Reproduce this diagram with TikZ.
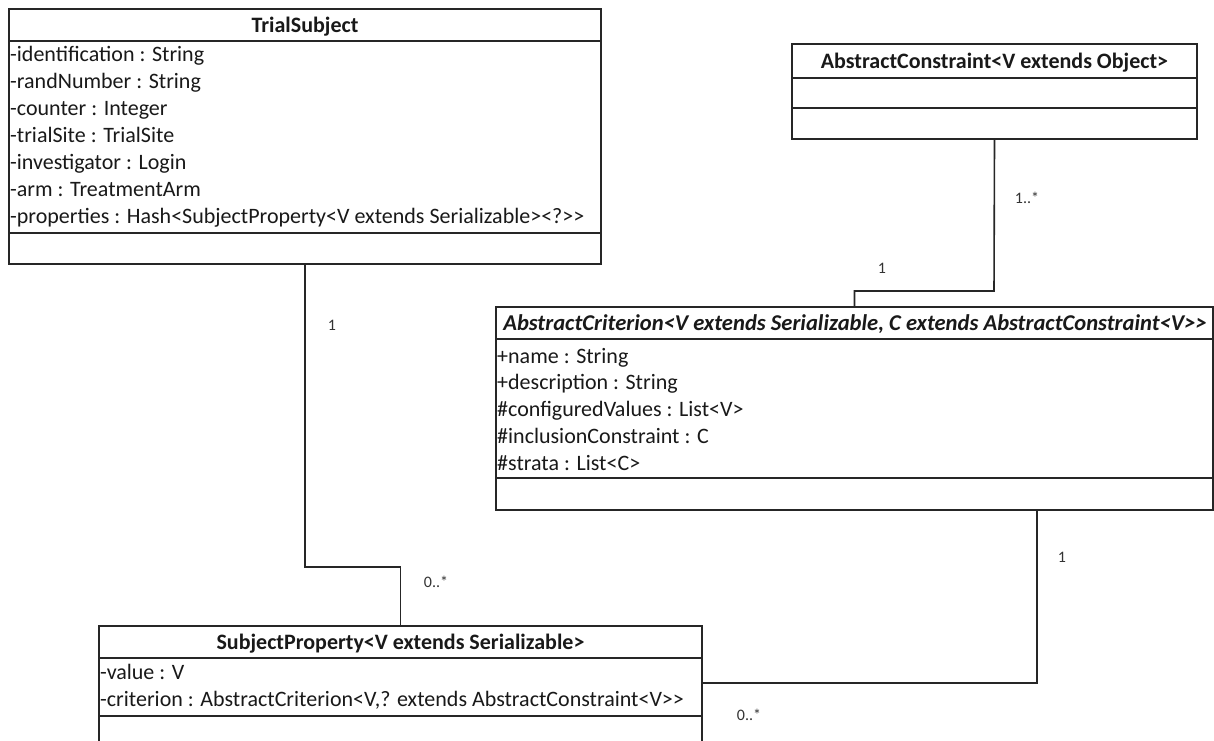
\documentclass[tikz,border=0pt]{standalone}
\usepackage{fontspec}
\setmainfont{Carlito}[Ligatures=TeXOff]
\begin{document}
\begin{tikzpicture}[x=1pt,y=-1pt,
  box/.style={draw=black!85, line width=1.6pt, anchor=north west, inner sep=0pt, outer sep=0pt, rectangle},
  sepline/.style={draw=black!85, line width=1.6pt},
  conn/.style={draw=black!85, line width=1.6pt},
  hdr/.style={anchor=base, inner sep=0pt, text=black!90, font=\fontsize{22}{26}\selectfont\bfseries},
  hdri/.style={anchor=base, inner sep=0pt, text=black!90, font=\fontsize{22.6}{26}\selectfont\bfseries\itshape},
  attr/.style={anchor=base west, inner sep=0pt, text=black!90, font=\fontsize{22}{26}\selectfont},
  mult/.style={anchor=center, inner sep=0pt, text=black!80, font=\fontsize{16}{19}\selectfont}]
\useasboundingbox[fill=white] (0,0) rectangle (1214,740);

% TrialSubject
\node[box, minimum width=592pt, minimum height=255pt] (ts) at (9,9) {};
\draw[sepline] (ts.west |- 0,41) -- (ts.east |- 0,41);
\draw[sepline] (ts.west |- 0,233) -- (ts.east |- 0,233);
\node[hdr] (tsh) at (305,32) {TrialSubject};
\node[attr] (ts1) at (10,61) {-identification : String};
\node[attr] (ts2) at (10,88) {-randNumber : String};
\node[attr] (ts3) at (10,115) {-counter : Integer};
\node[attr] (ts4) at (10,142) {-trialSite : TrialSite};
\node[attr] (ts5) at (10,169) {-investigator : Login};
\node[attr] (ts6) at (10,196) {-arm : TreatmentArm};
\node[attr] (ts7) at (10,223) {-properties : Hash<SubjectProperty<V extends Serializable><?>>};

% AbstractConstraint
\node[box, minimum width=405pt, minimum height=95pt] (ac) at (792,44) {};
\draw[sepline] (ac.west |- 0,78) -- (ac.east |- 0,78);
\draw[sepline] (ac.west |- 0,108) -- (ac.east |- 0,108);
\node[hdr] (ach) at (994.5,68) {AbstractConstraint<V extends Object>};

% AbstractCriterion
\node[box, minimum width=717pt, minimum height=203pt] (acr) at (496,307) {};
\draw[sepline] (acr.west |- 0,339) -- (acr.east |- 0,339);
\draw[sepline] (acr.west |- 0,478) -- (acr.east |- 0,478);
\node[hdri] (acrh) at (855,330) {AbstractCriterion<V extends Serializable, C extends AbstractConstraint<V>>};
\node[attr] (acr1) at (497,363) {+name : String};
\node[attr] (acr2) at (497,389) {+description : String};
\node[attr] (acr3) at (497,416) {\#configuredValues : List<V>};
\node[attr] (acr4) at (497,443) {\#inclusionConstraint : C};
\node[attr] (acr5) at (497,470) {\#strata : List<C>};

% SubjectProperty (cut off by the lower edge of the picture)
\node[box, minimum width=603pt, minimum height=140pt] (sp) at (99,626) {};
\draw[sepline] (sp.west |- 0,658) -- (sp.east |- 0,658);
\draw[sepline] (sp.west |- 0,716) -- (sp.east |- 0,716);
\node[hdr] (sph) at (400.5,649) {SubjectProperty<V extends Serializable>};
\node[attr] (sp1) at (100,679) {-value : V};
\node[attr] (sp2) at (100,706) {-criterion : AbstractCriterion<V,? extends AbstractConstraint<V>>};

% connectors
\coordinate (k1) at (305,567);
\draw[conn] (ts.south) -- (k1) -| (sp.north);
\coordinate (k2) at (994,291);
\draw[conn] (ac.south) -- (k2) -| (acr.north);
\coordinate (acrb) at (1037,510);
\coordinate (spr) at (sp.east |- 0,683);
\draw[conn] (acrb) |- (spr);

% multiplicities
\node[mult] (m1) at (332,325) {1};
\node[mult] (m2) at (436,582) {0..*};
\node[mult] (m3) at (1027,198) {1..*};
\node[mult] (m4) at (882,268) {1};
\node[mult] (m5) at (1062,557) {1};
\node[mult] (m6) at (749,715) {0..*};
\end{tikzpicture}
\end{document}
